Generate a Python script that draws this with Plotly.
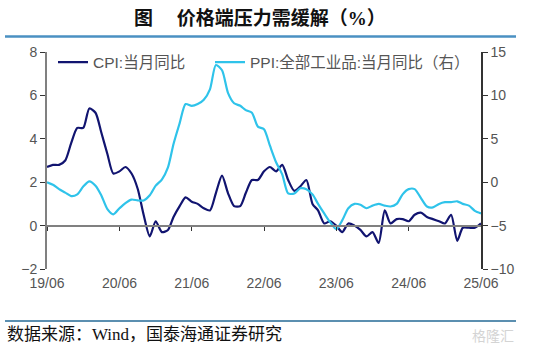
import pandas as pd
import plotly.graph_objects as go

# ---- data ----
months = pd.date_range("2019-06-01", "2025-06-01", freq="MS")

cpi = [2.7, 2.8, 2.8, 3.0, 3.8, 4.5, 4.5,
       5.4, 5.2, 4.3, 3.3, 2.4, 2.5, 2.7, 2.4, 1.7, 0.5, -0.5, 0.2,
       -0.3, -0.2, 0.4, 0.9, 1.3, 1.1, 1.0, 0.8, 0.7, 1.5, 2.3, 1.5,
       0.9, 0.9, 1.5, 2.1, 2.1, 2.5, 2.7, 2.5, 2.8, 2.1, 1.6, 1.8,
       2.1, 1.0, 0.7, 0.1, 0.2, 0.0, -0.3, 0.1, 0.0, -0.2, -0.5, -0.3,
       -0.8, 0.7, 0.1, 0.3, 0.3, 0.2, 0.5, 0.6, 0.4, 0.3, 0.2, 0.1,
       0.5, -0.7, -0.1, -0.1, -0.1, 0.1]

ppi = [0.0, -0.3, -0.8, -1.2, -1.6, -1.4, -0.5,
       0.1, -0.4, -1.5, -3.1, -3.7, -3.0, -2.4, -2.0, -2.1, -2.1, -1.5, -0.4,
       0.3, 1.7, 4.4, 6.8, 9.0, 8.8, 9.0, 9.5, 10.7, 13.5, 12.9, 10.3,
       9.1, 8.8, 8.3, 8.0, 6.4, 6.1, 4.2, 2.3, 0.9, -1.3, -1.3, -0.7,
       -0.8, -1.4, -2.5, -3.6, -4.6, -5.4, -4.4, -3.0, -2.5, -2.6, -3.0, -2.7,
       -2.5, -2.7, -2.8, -2.5, -1.4, -0.8, -0.8, -1.8, -2.8, -2.9, -2.5, -2.3,
       -2.3, -2.2, -2.5, -2.7, -3.3, -3.6]

cpi_name = "CPI:当月同比"
ppi_name = "PPI:全部工业品:当月同比（右）"
title_text = "图&nbsp;&nbsp;&nbsp;&nbsp;&nbsp;价格端压力需缓解（%）"
source_text = "数据来源：Wind，国泰海通证券研究"
tick_dates = pd.date_range("2019-06-01", "2025-06-01", freq="12MS")
tick_labels = ["19/06", "20/06", "21/06", "22/06", "23/06", "24/06", "25/06"]

# ---- figure ----
W, H = 538, 352
L, R, T, B = 47, 57, 51.5, 83
pw, ph = W - L - R, H - T - B

def px_x(p):
    return (p - L) / pw

def px_y(p):
    return (H - B - p) / ph

FONT = "Liberation Sans, Arial, Noto Sans CJK SC, sans-serif"
SERIF = "Liberation Serif, Noto Sans CJK SC, serif"

fig = go.Figure()
fig.add_trace(go.Scatter(
    x=months, y=cpi, name=cpi_name, mode="lines", legend="legend",
    line=dict(color="#111470", width=2.2, shape="spline", smoothing=0.7),
    xaxis="x", yaxis="y"))
fig.add_trace(go.Scatter(
    x=months, y=ppi, name=ppi_name, mode="lines", legend="legend2",
    line=dict(color="#2fc3ea", width=2.2, shape="spline", smoothing=0.7),
    xaxis="x", yaxis="y2"))
# helper trace so the zero-line axis (x2) is drawn
fig.add_trace(go.Scatter(
    x=[months[0]], y=[0], mode="lines", opacity=0, showlegend=False,
    hoverinfo="skip", xaxis="x2", yaxis="y"))

xr = [months[0], months[-1]]
leg_common = dict(orientation="h", xanchor="left", yanchor="top",
                  bgcolor="rgba(0,0,0,0)", font=dict(size=15.5, color="#555555"))
fig.update_layout(
    width=W, height=H,
    margin=dict(l=L, r=R, t=T, b=B),
    paper_bgcolor="white", plot_bgcolor="white",
    font=dict(family=FONT, size=14, color="#555555"),
    showlegend=True,
    legend=dict(x=px_x(53), y=px_y(45), **leg_common),
    legend2=dict(x=px_x(210), y=px_y(45), **leg_common),
    xaxis=dict(range=xr, tickmode="array", tickvals=tick_dates, ticktext=tick_labels,
               showgrid=False, zeroline=False, showline=False, ticks="",
               tickfont=dict(size=14, color="#555555"), ticklabelstandoff=4),
    xaxis2=dict(range=xr, matches="x", overlaying="x", anchor="free", position=0.2,
                tickmode="array", tickvals=tick_dates, showticklabels=False,
                showgrid=False, zeroline=False, showline=True, linecolor="#808080",
                linewidth=2, ticks="outside", ticklen=4, tickcolor="#333333", tickwidth=1),
    yaxis=dict(range=[-2, 8], dtick=2, showgrid=False, zeroline=False,
               showline=True, linecolor="#808080", linewidth=2,
               ticks="outside", ticklen=5, tickcolor="#333333",
               tickfont=dict(size=14, color="#555555")),
    yaxis2=dict(range=[-10, 15], dtick=5, overlaying="y", side="right",
                showgrid=False, zeroline=False, showline=True, linecolor="#333333",
                linewidth=1.5, ticks="outside", ticklen=5, tickcolor="#333333",
                tickfont=dict(size=14, color="#555555")),
)

fig.add_annotation(text=title_text, xref="paper", yref="paper",
                   x=px_x(260), y=px_y(18), xanchor="center", yanchor="middle",
                   showarrow=False,
                   font=dict(family=SERIF, size=19, color="#111111", weight="bold"))
fig.add_annotation(text=source_text, xref="paper", yref="paper",
                   x=px_x(5), y=px_y(335), xanchor="left", yanchor="middle",
                   showarrow=False,
                   font=dict(family=SERIF, size=17, color="#111111"))
fig.add_annotation(text="格隆汇", xref="paper", yref="paper",
                   x=px_x(516), y=px_y(335), xanchor="right", yanchor="middle",
                   showarrow=False,
                   font=dict(family="Noto Sans CJK SC", size=14, color="#d4d4d4"))

fig.add_shape(type="line", xref="paper", yref="paper",
              x0=px_x(5), x1=px_x(516), y0=px_y(36), y1=px_y(36),
              line=dict(color="#4a90c2", width=2.5))
fig.add_shape(type="line", xref="paper", yref="paper",
              x0=px_x(5), x1=px_x(516), y0=px_y(321), y1=px_y(321),
              line=dict(color="#5b8fb0", width=2))

fig.write_html("out.html")
